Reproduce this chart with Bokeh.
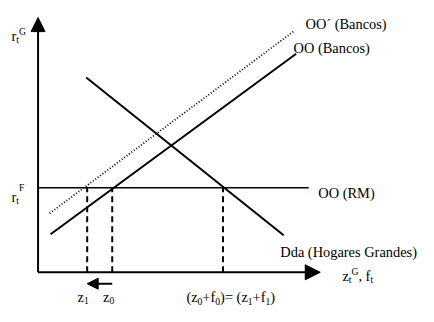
from bokeh.plotting import figure
from bokeh.models import Range1d, Arrow, NormalHead, ColumnDataSource
from bokeh.core.properties import value, field
from bokeh.embed import file_html
from bokeh.resources import INLINE

# ---- diagram data (units: origin at the axes corner) ----
x_axis_end = 293          # z_t^G, f_t axis length
y_axis_end = 268          # r_t^G axis length
rF = 89                   # r_t^F level (OO (RM))
rm_x = [0, 281]
rm_y = [rF, rF]
banks_x = [13, 268]       # OO (Bancos)
banks_y = [40, 230]
banks2_x = [12, 266]      # OO' (Bancos)
banks2_y = [62, 254]
dda_x = [50, 255]         # Dda (Hogares Grandes)
dda_y = [205, 39]
drop_x = [51, 77, 192]    # z1, z0, (z0+f0)=(z1+f1)
shift_from = 77           # z0 -> z1
shift_to = 51
shift_y = -12

FONT = "Liberation Serif"
MAIN = 14.4
SMALL = 9.6
TIMES = {'(': 333, ')': 333, 'z': 444, 'f': 333, '+': 564, '=': 564, ' ': 250,
         ',': 250, 'r': 333, 't': 278, '0': 500, '1': 500, 'G': 722, 'F': 556}

p = figure(width=418, height=306, x_range=Range1d(-39, 395), y_range=Range1d(-36, 286),
           x_axis_type=None, y_axis_type=None, toolbar_location=None,
           output_backend="svg", min_border=0, outline_line_color=None,
           background_fill_color="white", border_fill_color="white")
p.xgrid.visible = False
p.ygrid.visible = False

# axes with arrows
p.add_layout(Arrow(x_start=0, y_start=0, x_end=x_axis_end, y_end=0, line_width=2,
                   end=NormalHead(size=15, fill_color="black", line_color="black")))
p.add_layout(Arrow(x_start=0, y_start=0, x_end=0, y_end=y_axis_end, line_width=2,
                   end=NormalHead(size=14, fill_color="black", line_color="black")))

# curves
p.line(rm_x, rm_y, line_width=1.5, line_color="black")
p.line(banks_x, banks_y, line_width=2, line_color="black")
p.line(banks2_x, banks2_y, line_width=1.8, line_color="black", line_dash="1 2")
p.line(dda_x, dda_y, line_width=2, line_color="black")
p.segment(x0=drop_x, y0=[0] * len(drop_x), x1=drop_x, y1=[rF] * len(drop_x),
          line_width=2, line_color="black", line_dash="6 4")

# shift arrow z0 -> z1
p.add_layout(Arrow(x_start=shift_from, y_start=shift_y, x_end=shift_to, y_end=shift_y,
                   line_width=2,
                   end=NormalHead(size=11, fill_color="black", line_color="black")))

# ---- texts ----
src = {'text': [], 'x': [], 'y': [], 'dx': [], 'dy': [], 'size': []}


def add(text, x, y, dx=0.0, dy=0.0, size=MAIN):
    src['text'].append(text)
    src['x'].append(x)
    src['y'].append(y)
    src['dx'].append(dx)
    src['dy'].append(dy)
    src['size'].append(f"{size}px")


def rich(x, y, parts):
    off = 0.0
    for s, kind in parts:
        size = MAIN if kind == 'n' else SMALL
        dy = {'n': 0, 'sub': 3.8, 'sup': -4.8, 'sup2': -9.5}[kind]
        add(s, x, y, off, dy, size)
        off += sum(TIMES[c] for c in s) * size / 1000.0


add("OO\u00b4 (Bancos)", 277.7, 261.5)
add("OO (Bancos)", 265.3, 236.5)
add("OO (RM)", 291, 83.3)
add("Dda (Hogares Grandes)", 251.5, 21)
rich(-27.5, 248.5, [("r", 'n'), ("t", 'sub'), ("G", 'sup')])
rich(-27.5, 79.5, [("r", 'n'), ("t", 'sub'), ("F", 'sup2')])
rich(316, -4, [("z", 'n'), ("t", 'sub'), ("G", 'sup'), (", f", 'n'), ("t", 'sub')])
rich(41, -26, [("z", 'n'), ("1", 'sub')])
rich(67.5, -26, [("z", 'n'), ("0", 'sub')])
rich(154, -26.5, [("(z", 'n'), ("0", 'sub'), ("+f", 'n'), ("0", 'sub'), (")= (z", 'n'),
                  ("1", 'sub'), ("+f", 'n'), ("1", 'sub'), (")", 'n')])

p.text(x='x', y='y', text='text', x_offset='dx', y_offset='dy',
       text_font_size=field('size'), text_font=value(FONT), text_color="black",
       text_align="left", text_baseline="alphabetic", source=ColumnDataSource(src))

open("out.html", "w").write(file_html(p, INLINE))
